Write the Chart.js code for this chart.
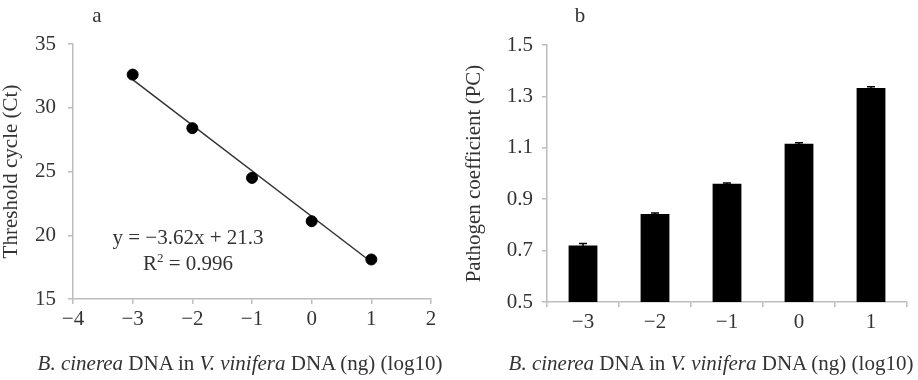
<!DOCTYPE html>
<html>
<head>
<meta charset="utf-8">
<script src="https://cdn.jsdelivr.net/npm/chart.js@4.4.0/dist/chart.umd.min.js"></script>
<style>
  body { margin: 0; background: #fff; }
  #wrap { position: relative; width: 918px; height: 380px; overflow: hidden; font-family: "Liberation Serif", "Times New Roman", serif; color: #333; }
  canvas { position: absolute; top: 0; }
  #ctChart { left: 0; }
  #pcChart { left: 460px; }
  .txt { position: absolute; font-size: 21px; line-height: 21px; white-space: nowrap; transform: translateX(-50%); }
  .eq { position: absolute; font-size: 21px; line-height: 26px; white-space: nowrap; text-align: center; transform: translateX(-50%); }
  sup { font-size: 13px; line-height: 0; vertical-align: 8px; }
</style>
</head>
<body>
<div id="wrap">
  <canvas id="ctChart" width="460" height="380"></canvas>
  <canvas id="pcChart" width="458" height="380"></canvas>
  <div class="txt" style="left:97px; top:5px;">a</div>
  <div class="txt" style="left:580px; top:5px;">b</div>
  <div class="eq" style="left:188px; top:224px;">y = −3.62x + 21.3<br>R<sup>2</sup> = 0.996</div>
  <div class="txt" style="left:240px; top:353px;"><i>B. cinerea</i> DNA in <i>V. vinifera</i> DNA (ng) (log10)</div>
  <div class="txt" style="left:711px; top:353px;"><i>B. cinerea</i> DNA in <i>V. vinifera</i> DNA (ng) (log10)</div>
</div>
<script>
// panel a: standard curve
const doseLog = [-3, -2, -1, 0, 1];
const ctValues = [32.6, 28.4, 24.5, 21.1, 18.1];
const trendX = [-3, 1];
const trendY = [32.2, 17.9];

// panel b: pathogen coefficient
const pcLabels = ['-3', '-2', '-1', '0', '1'];
const pcValues = [0.72, 0.842, 0.96, 1.116, 1.333];
const pcErrors = [0.008, 0.004, 0.003, 0.004, 0.005];

const axisGray = '#bdbdbd';
const textGray = '#333';

Chart.defaults.font.family = '"Liberation Serif", "Times New Roman", serif';
Chart.defaults.font.size = 21;
Chart.defaults.color = textGray;

const minusSign = v => String(v).replace('-', '\u2212');

function axisStyle() {
  return {
    grid: { display: true, drawOnChartArea: false, drawTicks: true, tickLength: 5, color: axisGray, lineWidth: 1.5 },
    border: { display: true, color: axisGray, width: 1.5 }
  };
}

const errorBarPlugin = {
  id: 'errorBars',
  afterDatasetsDraw(chart) {
    const ctx = chart.ctx;
    const meta = chart.getDatasetMeta(0);
    const yScale = chart.scales.y;
    ctx.save();
    ctx.strokeStyle = '#000';
    ctx.lineWidth = 1.5;
    meta.data.forEach((bar, i) => {
      const top = yScale.getPixelForValue(pcValues[i] + pcErrors[i]);
      const bottom = yScale.getPixelForValue(pcValues[i] - pcErrors[i]);
      ctx.beginPath();
      ctx.moveTo(bar.x, top);
      ctx.lineTo(bar.x, bottom);
      ctx.moveTo(bar.x - 4, top);
      ctx.lineTo(bar.x + 4, top);
      ctx.stroke();
    });
    ctx.restore();
  }
};

function drawCtChart() {
  const points = doseLog.map((x, i) => ({ x: x, y: ctValues[i] }));
  const trend = trendX.map((x, i) => ({ x: x, y: trendY[i] }));
  new Chart(document.getElementById('ctChart'), {
    type: 'scatter',
    data: {
      datasets: [{
        data: points,
        backgroundColor: '#000',
        borderColor: '#000',
        pointRadius: 5.5,
        order: 0
      }, {
        type: 'line',
        data: trend,
        borderColor: '#333',
        borderWidth: 1.5,
        pointRadius: 0,
        fill: false,
        order: 1
      }]
    },
    options: {
      responsive: false,
      animation: false,
      layout: { padding: { top: 44, right: 29, left: 0, bottom: 0 } },
      plugins: { legend: { display: false }, tooltip: { enabled: false } },
      scales: {
        x: {
          type: 'linear', min: -4, max: 2,
          ...axisStyle(),
          ticks: { stepSize: 1, padding: 3, callback: v => minusSign(v) },
          afterFit: scale => { scale.height = 81; }
        },
        y: {
          min: 15, max: 35,
          ...axisStyle(),
          ticks: { stepSize: 5, padding: 12 },
          title: { display: true, text: 'Threshold cycle (Ct)', padding: { top: 0, bottom: 0 }, font: { size: 21, lineHeight: 1.1 } },
          afterFit: scale => { scale.width = 73; }
        }
      }
    }
  });
}

function drawPcChart() {
  new Chart(document.getElementById('pcChart'), {
    type: 'bar',
    data: {
      labels: pcLabels.map(minusSign),
      datasets: [{
        data: pcValues,
        backgroundColor: '#000',
        borderWidth: 0,
        categoryPercentage: 1,
        barPercentage: 0.4
      }]
    },
    options: {
      responsive: false,
      animation: false,
      layout: { padding: { top: 45, right: 11, left: 0, bottom: 0 } },
      plugins: { legend: { display: false }, tooltip: { enabled: false } },
      scales: {
        x: {
          ...axisStyle(),
          ticks: { padding: 3 },
          afterFit: scale => { scale.height = 78; }
        },
        y: {
          min: 0.5, max: 1.5,
          ...axisStyle(),
          ticks: { stepSize: 0.2, padding: 9 },
          title: { display: true, text: 'Pathogen coefficient (PC)', padding: { top: 3, bottom: 0 }, font: { size: 21, lineHeight: 1.1 } },
          afterFit: scale => { scale.width = 87; }
        }
      }
    },
    plugins: [errorBarPlugin]
  });
}

drawCtChart();
drawPcChart();
</script>
</body>
</html>
